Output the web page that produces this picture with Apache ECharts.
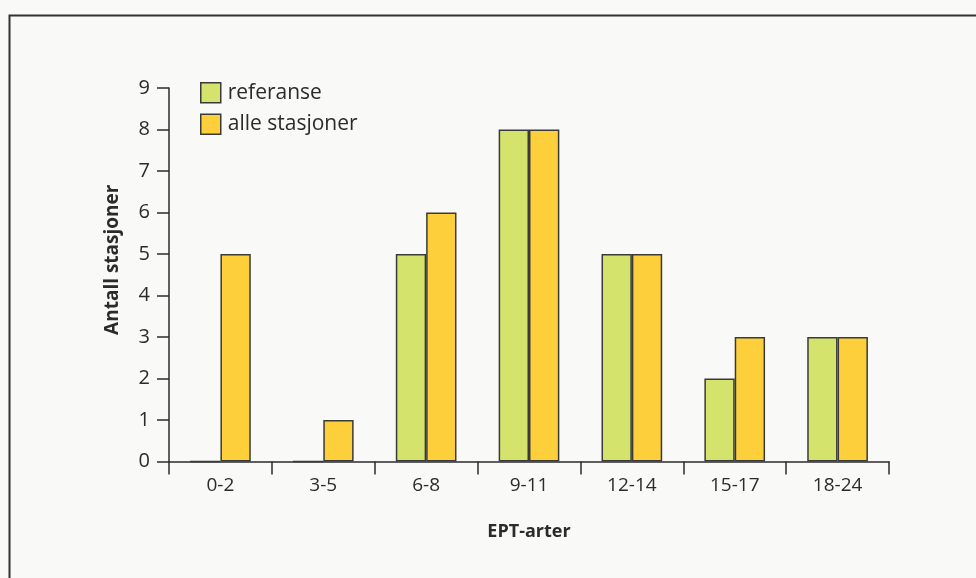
<!DOCTYPE html>
<html><head><meta charset="utf-8">
<script src="https://cdn.jsdelivr.net/npm/echarts@6/dist/echarts.min.js"></script>
<style>html,body{margin:0;padding:0;background:#f9f9f8;}#c{width:976px;height:578px;}</style>
</head><body><div id="c"></div>
<script>
const categories = ['0-2','3-5','6-8','9-11','12-14','15-17','18-24'];
const referanse = [0, 0, 5, 8, 5, 2, 3];
const alleStasjoner = [5, 1, 6, 8, 5, 3, 3];
const yTicks = [0,1,2,3,4,5,6,7,8,9];

const chart = echarts.init(document.getElementById('c'));
const font = '"Open Sans", "Noto Sans", sans-serif';
const ink = '#2b2b2b';
chart.setOption({
  backgroundColor: '#f9f9f8',
  animation: false,
  textStyle: {fontFamily: font},
  graphic: [{
    type: 'rect', left: 7, top: 13, shape: {x: 0, y: 0, width: 1000, height: 600},
    style: {fill: 'none', stroke: '#333333', lineWidth: 2}, z: -1
  }],
  legend: {
    left: 195, top: 77, orient: 'vertical', itemWidth: 20, itemHeight: 20, itemGap: 10,
    icon: 'rect', itemStyle: {borderColor: '#3a3a3a', borderWidth: 1.5},
    textStyle: {fontSize: 21, color: ink, fontFamily: font, padding: [0, 0, 0, 2]},
    data: ['referanse', 'alle stasjoner']
  },
  grid: {left: 169, right: 87, top: 88, bottom: 116.5, containLabel: false},
  xAxis: {
    type: 'category', data: categories,
    name: 'EPT-arter', nameLocation: 'middle', nameGap: 61,
    nameTextStyle: {fontSize: 18, fontWeight: 'bold', color: ink, fontFamily: font},
    axisLine: {lineStyle: {color: ink, width: 1.5}},
    axisTick: {show: true, length: 13, lineStyle: {color: ink, width: 1.5}, alignWithLabel: false},
    axisLabel: {fontSize: 19, color: ink, margin: 15, fontFamily: font}
  },
  yAxis: {
    type: 'value', min: 0, max: 9, interval: 1,
    name: 'Antall stasjoner', nameLocation: 'middle', nameGap: 47,
    nameTextStyle: {fontSize: 19, fontWeight: 'bold', color: ink, fontFamily: font, padding: [0, 0, 0, 30]},
    axisLine: {show: true, lineStyle: {color: ink, width: 1.5}},
    axisTick: {show: true, length: 12, lineStyle: {color: ink, width: 1.5}},
    splitLine: {show: false},
    axisLabel: {fontSize: 20, color: ink, margin: 19, fontFamily: font,
      formatter: v => yTicks.includes(v) ? String(v) : ''}
  },
  series: [
    {name: 'referanse', type: 'bar', data: referanse, barGap: '0%', barCategoryGap: '41%',
     itemStyle: {color: '#d3e36b', borderColor: '#3a3a3a', borderWidth: 1.5}},
    {name: 'alle stasjoner', type: 'bar', data: alleStasjoner, barGap: '0%', barCategoryGap: '41%',
     itemStyle: {color: '#fdd03b', borderColor: '#3a3a3a', borderWidth: 1.5}}
  ]
});
</script></body></html>
